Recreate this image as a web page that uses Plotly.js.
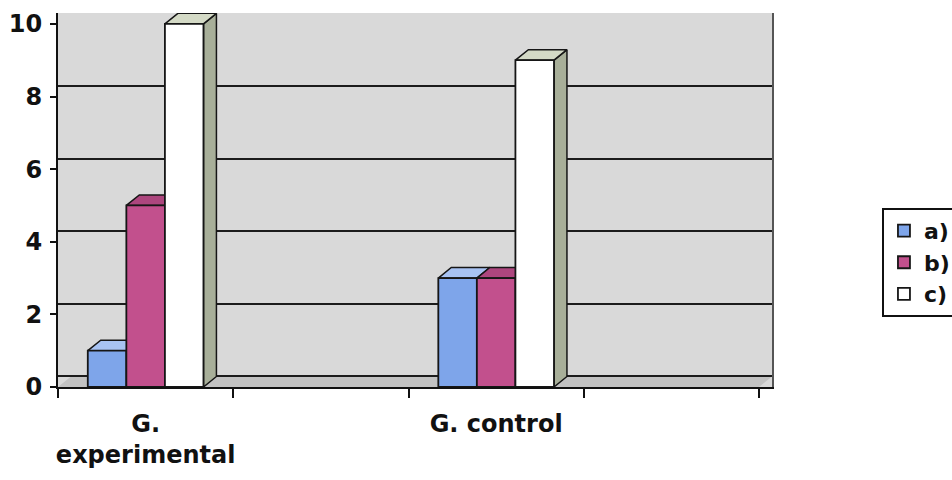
<!DOCTYPE html>
<html>
<head>
<meta charset="utf-8">
<script src="https://cdn.plot.ly/plotly-3.0.1.min.js"></script>
<style>html,body{margin:0;padding:0;background:#fff;}#chart{width:952px;height:480px;}</style>
</head>
<body>
<div id="chart"></div>
<script>
// ---- data ----
const categories = ["G.<br>experimental", "G. control"];
const categoryIndex = [0, 2];
const seriesNames = ["a)", "b)", "c)"];
const valuesA = [1, 3];
const valuesB = [5, 3];
const valuesC = [10, 9];
const yTicks = [0, 2, 4, 6, 8, 10];

// ---- styles ----
const frontColors = ["#7ea5ea", "#c2508d", "#ffffff"];
const topColors = ["#a8c3f3", "#ad467e", "#d4dac6"];
const sideColors = ["#5a7fc2", "#8d3464", "#a8af99"];
const outline = "#161616";
const barWidth = 0.22;
const barOffsets = [-0.33, -0.11, 0.11];
const depthX = 0.074;   // 3-D depth in x-axis units
const depthY = 0.29;    // 3-D depth in y-axis units
const yTop = 10.3;
const font = "DejaVu Sans, Arial, sans-serif";

const allValues = [valuesA, valuesB, valuesC];
const traces = [];

// depth faces (side + top), drawn beneath the front faces
categoryIndex.forEach((cx, g) => {
  allValues.forEach((vals, s) => {
    const v = vals[g];
    const x0 = cx + barOffsets[s];
    const x1 = x0 + barWidth;
    traces.push({
      type: "scatter", mode: "lines", fill: "toself",
      x: [x1, x1, x1 + depthX, x1 + depthX, x1],
      y: [0, v, v + depthY, depthY, 0],
      fillcolor: sideColors[s], line: {color: outline, width: 1.5},
      xaxis: "x", yaxis: "y", showlegend: false, hoverinfo: "skip"
    });
    traces.push({
      type: "scatter", mode: "lines", fill: "toself",
      x: [x0, x1, x1 + depthX, x0 + depthX, x0],
      y: [v, v, v + depthY, v + depthY, v],
      fillcolor: topColors[s], line: {color: outline, width: 1.5},
      xaxis: "x", yaxis: "y", showlegend: false, hoverinfo: "skip"
    });
  });
});

// front faces as real bars (on an overlaid axis so they sit on top)
allValues.forEach((vals, s) => {
  traces.push({
    type: "bar", name: seriesNames[s],
    x: categoryIndex, y: vals,
    width: barWidth, offset: barOffsets[s],
    marker: {color: frontColors[s], line: {color: outline, width: 1.8}},
    xaxis: "x", yaxis: "y2"
  });
});

// carrier for the back-wall grid axis
traces.push({type: "scatter", mode: "lines", x: [], y: [], xaxis: "x", yaxis: "y3",
  showlegend: false, hoverinfo: "skip"});

const layout = {
  width: 952, height: 480,
  margin: {l: 58, r: 180, t: 13, b: 93, autoexpand: false},
  paper_bgcolor: "#ffffff",
  plot_bgcolor: "#d9d9d9",
  barmode: "overlay",
  showlegend: true,
  font: {family: font, color: "#111"},
  xaxis: {
    range: [-0.5, 3.5 + depthX],
    tickmode: "array", tickvals: categoryIndex, ticktext: categories,
    ticks: "", showgrid: false, zeroline: false,
    showline: true, linecolor: "#111", linewidth: 2,
    tickfont: {family: font, size: 24, color: "#111", weight: "bold"},
    ticklabelstandoff: 14,
    automargin: false,
    minor: {tickmode: "array", tickvals: [-0.5, 0.5, 1.5, 2.5, 3.5],
      ticks: "outside", ticklen: 9, tickwidth: 2, tickcolor: "#111", showgrid: false}
  },
  yaxis: {
    range: [0, yTop], tickmode: "array", tickvals: yTicks,
    ticks: "outside", ticklen: 6, tickwidth: 2, tickcolor: "#111",
    showline: true, linecolor: "#111", linewidth: 2,
    showgrid: false, zeroline: false, automargin: false,
    tickfont: {family: font, size: 24, color: "#111", weight: "bold"},
    ticklabelstandoff: 3
  },
  yaxis2: {overlaying: "y", range: [0, yTop], visible: false},
  yaxis3: {
    overlaying: "y", side: "right", range: [-depthY, yTop - depthY],
    tickmode: "array", tickvals: yTicks, showticklabels: false, ticks: "",
    showgrid: true, gridcolor: "#1c1c1c", gridwidth: 2, zeroline: false,
    showline: true, linecolor: "#555", linewidth: 1.5, automargin: false
  },
  shapes: [{
    type: "path", xref: "x", yref: "y", layer: "below",
    path: "M -0.5 0 L 3.5 0 L " + (3.5 + depthX) + " " + depthY + " L " + (-0.5 + depthX) + " " + depthY + " Z",
    fillcolor: "#c2c2c2", line: {width: 0}
  }],
  legend: {
    x: 1.154, xanchor: "left", y: 0.479, yanchor: "top",
    bgcolor: "#ffffff", bordercolor: "#111", borderwidth: 2,
    font: {family: font, size: 22, color: "#111", weight: "bold"},
    itemclick: false, itemdoubleclick: false
  }
};

Plotly.newPlot("chart", traces, layout, {displayModeBar: false, staticPlot: true});
</script>
</body>
</html>
